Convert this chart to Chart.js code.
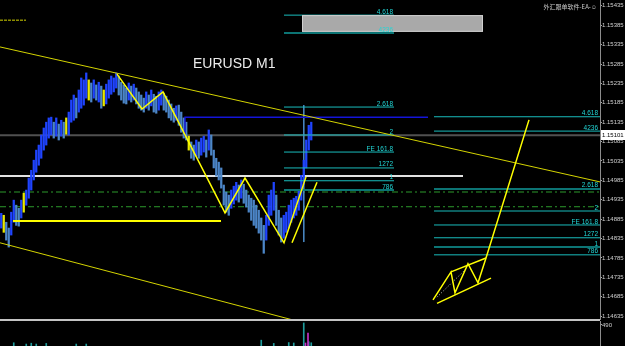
<!DOCTYPE html>
<html lang="en">
<head>
<meta charset="utf-8">
<title>EURUSD M1</title>
<script src="https://cdn.jsdelivr.net/npm/chart.js@4.4.0/dist/chart.umd.min.js"></script>
<style>
  html, body { margin:0; padding:0; background:#000; }
  #wrap { position:relative; width:625px; height:346px; overflow:hidden; background:#000; }
  #main { position:absolute; left:0; top:0; }
  #sub { position:absolute; left:0; top:321px; }
  #sep { position:absolute; left:0; top:319px; width:600px; height:2px; background:#c4c4c4; }
  #sym { position:absolute; left:193px; top:55px; line-height:14px; color:#ececec;
         font:14px "Liberation Sans", Arial, sans-serif; }
  #brand { position:absolute; right:28px; top:2px; line-height:8px; color:#c8c8c8;
           font:6px "Noto Sans CJK SC", sans-serif; }
</style>
</head>
<body>
<div id="wrap">
  <canvas id="main" width="625" height="320"></canvas>
  <div id="sep"></div>
  <canvas id="sub" width="625" height="25"></canvas>
  <div id="sym">EURUSD M1</div>
  <div id="brand">外汇跟单软件-EA-☺</div>
</div>
<script>
// price axis
var yTicks = [1.15435,1.15385,1.15335,1.15285,1.15235,1.15185,1.15135,1.15085,1.15035,
              1.14985,1.14935,1.14885,1.14835,1.14785,1.14735,1.14685,1.14635];
var lastPrice = 1.15101;

// M1 bars (high / low)
var barHigh = [1.14900,1.14895,1.14877,1.14862,1.14903,1.14934,1.14921,1.14913,1.14934,1.14952,
1.14960,1.14991,1.15011,1.15037,1.15063,1.15076,1.15102,1.15120,1.15135,1.15146,
1.15148,1.15135,1.15146,1.15130,1.15140,1.15135,1.15146,1.15161,1.15192,1.15205,
1.15197,1.15218,1.15249,1.15244,1.15262,1.15244,1.15236,1.15244,1.15231,1.15238,
1.15228,1.15218,1.15233,1.15244,1.15254,1.15249,1.15262,1.15254,1.15238,1.15231,
1.15223,1.15236,1.15228,1.15233,1.15223,1.15213,1.15205,1.15197,1.15213,1.15205,
1.15218,1.15207,1.15202,1.15213,1.15218,1.15210,1.15202,1.15192,1.15182,1.15171,
1.15177,1.15179,1.15161,1.15146,1.15135,1.15099,1.15084,1.15076,1.15089,1.15084,
1.15094,1.15099,1.15089,1.15115,1.15102,1.15063,1.15042,1.15032,1.15017,1.14973,
1.14955,1.14947,1.14960,1.14970,1.14980,1.14973,1.14986,1.14975,1.14960,1.14947,
1.14939,1.14934,1.14921,1.14908,1.14888,1.14869,1.14895,1.14947,1.14960,1.14980,
1.14947,1.14908,1.14888,1.14895,1.14903,1.14921,1.14934,1.14939,1.14944,1.14960,
1.14998,1.15037,1.15089,1.15127,1.15135];
var barLow = [1.14862,1.14851,1.14831,1.14813,1.14844,1.14877,1.14869,1.14867,1.14888,1.14903,
1.14921,1.14939,1.14960,1.14986,1.15006,1.15024,1.15042,1.15063,1.15076,1.15094,
1.15102,1.15094,1.15099,1.15089,1.15099,1.15094,1.15104,1.15102,1.15135,1.15140,
1.15146,1.15161,1.15171,1.15179,1.15197,1.15192,1.15187,1.15197,1.15192,1.15187,
1.15171,1.15177,1.15182,1.15197,1.15207,1.15213,1.15223,1.15205,1.15192,1.15184,
1.15182,1.15192,1.15187,1.15192,1.15182,1.15171,1.15166,1.15161,1.15171,1.15166,
1.15177,1.15161,1.15158,1.15166,1.15179,1.15166,1.15161,1.15146,1.15140,1.15135,
1.15140,1.15127,1.15109,1.15094,1.15089,1.15063,1.15042,1.15037,1.15048,1.15042,
1.15050,1.15058,1.15045,1.15063,1.15050,1.15017,1.14996,1.14986,1.14965,1.14921,
1.14903,1.14895,1.14913,1.14924,1.14934,1.14929,1.14939,1.14926,1.14916,1.14903,
1.14882,1.14869,1.14862,1.14849,1.14831,1.14797,1.14831,1.14869,1.14895,1.14908,
1.14869,1.14844,1.14826,1.14836,1.14851,1.14862,1.14877,1.14888,1.14895,1.14908,
1.14934,1.14973,1.15017,1.15063,1.15089];
var yellowBars = [1, 9, 26, 35, 41, 75];

// drawn objects: [bar position, price]
var trendUpper = [[0,1.15329],[240,1.14981]];
var trendLower = [[0,1.14824],[117.2,1.14625]];
var dashTop = [[0,1.15398],[10.4,1.15398]];
var supportLine = [[5.2,1.14880],[88.4,1.14880]];
var whiteLevel = [[0,1.14996],[185.2,1.14996]];
var priceLine = [[0,lastPrice],[240,lastPrice]];
var greenLevels = [1.14955, 1.14917];
var blueLevel = [[74,1.15099],[74,1.15148],[171.2,1.15148]];
var markerLine = [[121.5,1.15179],[121.5,1.14826]];
var zigzag = [[46.8,1.15259],[56.8,1.15169],[65.2,1.15213],[90,1.14901],[98,1.14991],[113.6,1.14824],[122.4,1.14994]];
var channelLine = [[116.8,1.14824],[126.8,1.14980]];
var wedgeZig = [[173.2,1.14677],[180.4,1.14749],[182,1.14695],[187.2,1.14770],[191.2,1.14721],[194.4,1.14785],[211.6,1.15141]];
var wedgeTop = [[180.4,1.14749],[194.4,1.14785]];
var wedgeBottom = [[174.8,1.14668],[196.4,1.14733]];
var wedgeDots = [[174.8,1.14684],[186,1.14754]];
var boxSpan = [120.8, 193.2];
var boxPrices = [1.15411, 1.15368];

// fibonacci expansions
var fibLabels = ['4.618','4236','2.618','2','FE 161.8','1272','1','786'];
var fibA = [1.15411,1.15365,1.15174,1.15102,1.15058,1.15017,1.14984,1.14960];
var fibB = [1.15149,1.15112,1.14963,1.14906,1.14870,1.14837,1.14813,1.14793];
var fibASpan = [113.6, 157.6];
var fibBSpan = [173.6, 240];

// sub window
var volIdx = [5,10,12,14,18,30,34,104,109,115,117,121,123,124];
var volVal = [75,45,65,45,60,45,45,135,60,80,70,535,100,75];
var magIdx = [121,122];
var magVal = [70,300];

var fibADark = [1,7], fibBDark = [2,6];

function pts(arr) { return arr.map(function (p) { return {x:p[0], y:p[1]}; }); }
function seg(arr, color, width, order, dash) {
  return { type:'line', data:pts(arr), borderColor:color, borderWidth:width, pointRadius:0,
           fill:false, tension:0, order:order, borderDash:dash || [] };
}

var barColors = barHigh.map(function (h, i) {
  if (yellowBars.indexOf(i) >= 0) return '#e8e800';
  var mid = (h + barLow[i]) / 2, prev = i ? (barHigh[i-1] + barLow[i-1]) / 2 : mid;
  return mid >= prev ? '#1f44ff' : '#4c86c8';
});

var datasets = [];
datasets.push(seg(priceLine, '#505050', 2, 60));
datasets.push(seg(whiteLevel, '#e2e2e2', 2, 58));
greenLevels.forEach(function (v) {
  datasets.push(seg([[0,v],[240,v]], '#2c9a2c', 1, 59, [6,3,2,3]));
});
datasets.push(seg(markerLine, '#4a86c0', 1, 57));
datasets.push({ type:'bar', data: barHigh.map(function (h, i) { return {x:i+0.5, y:[barLow[i], h]}; }),
  backgroundColor: barColors, barThickness:1.6, borderWidth:0, grouped:false, order:50 });
fibLabels.forEach(function (t, i) {
  var da = fibADark.indexOf(i) >= 0, db = fibBDark.indexOf(i) >= 0;
  datasets.push(seg([[fibASpan[0],fibA[i]],[fibASpan[1],fibA[i]]], da ? '#0c7474' : '#19bcbc', da ? 2 : 1, 30));
  datasets.push(seg([[fibBSpan[0],fibB[i]],[fibBSpan[1],fibB[i]]], db ? '#0c7474' : '#19bcbc', db ? 2 : 1, 30));
});
datasets.push(seg(blueLevel, '#1414d8', 1.5, 20));
datasets.push(seg(trendUpper, '#d4d400', 1, 10));
datasets.push(seg(trendLower, '#d4d400', 1, 10));
datasets.push(seg(dashTop, '#d4d400', 1, 10, [3,1]));
datasets.push(seg(supportLine, '#ffff00', 2, 10));
datasets.push(seg(zigzag, '#ffff00', 1.5, 5));
datasets.push(seg(channelLine, '#ffff00', 1.5, 5));
datasets.push(seg(wedgeZig, '#ffff00', 1.5, 5));
datasets.push(seg(wedgeTop, '#ffff00', 1.5, 5));
datasets.push(seg(wedgeBottom, '#ffff00', 1.5, 5));
datasets.push(seg(wedgeDots, '#cfcfcf', 1, 5, [1,2]));

var axisFont = { family:'"Liberation Sans", Arial, sans-serif', size:6 };

var overlay = {
  id: 'overlay',
  afterDatasetsDraw: function (chart) {
    var ctx = chart.ctx, x = chart.scales.x, y = chart.scales.y;
    ctx.save();
    var bx1 = x.getPixelForValue(boxSpan[0]), bx2 = x.getPixelForValue(boxSpan[1]);
    var by1 = y.getPixelForValue(boxPrices[0]), by2 = y.getPixelForValue(boxPrices[1]);
    ctx.fillStyle = '#a9a9a9';
    ctx.fillRect(bx1, by1, bx2 - bx1, by2 - by1);
    ctx.strokeStyle = '#d0d0d0';
    ctx.lineWidth = 1;
    ctx.strokeRect(bx1 + 0.5, by1 + 0.5, bx2 - bx1 - 1, by2 - by1 - 1);
    ctx.font = '6.5px ' + axisFont.family;
    ctx.fillStyle = '#22d6d6';
    ctx.textAlign = 'right';
    ctx.textBaseline = 'bottom';
    fibLabels.forEach(function (t, i) {
      ctx.fillText(t, x.getPixelForValue(fibASpan[1]) - 1, y.getPixelForValue(fibA[i]));
      ctx.fillText(t, x.getPixelForValue(fibBSpan[1]) - 2, y.getPixelForValue(fibB[i]));
    });
    ctx.restore();
  },
  afterDraw: function (chart) {
    var ctx = chart.ctx, y = chart.scales.y, r = chart.chartArea.right;
    var yy = Math.round(y.getPixelForValue(lastPrice));
    ctx.save();
    ctx.fillStyle = '#ffffff';
    ctx.fillRect(r + 1, yy - 5, 24, 10);
    ctx.fillStyle = '#000000';
    ctx.font = '6px ' + axisFont.family;
    ctx.textAlign = 'left';
    ctx.textBaseline = 'middle';
    ctx.fillText(lastPrice.toFixed(5), r + 2, yy);
    ctx.restore();
  }
};

function rightAxis(min, max, ticks, fmt) {
  return {
    position:'right', min:min, max:max,
    afterBuildTicks: function (s) { s.ticks = ticks.map(function (v) { return {value:v}; }); },
    afterFit: function (s) { s.width = 25; s.paddingTop = 0; s.paddingBottom = 0; },
    grid: { drawOnChartArea:false, drawTicks:true, tickLength:2, color:'#a8a8a8' },
    border: { display:true, color:'#8c8c8c', width:1 },
    ticks: { color:'#d0d0d0', font:axisFont, padding:0, callback: fmt }
  };
}

new Chart(document.getElementById('main'), {
  type: 'bar',
  data: { datasets: datasets },
  options: {
    responsive:false, animation:false, devicePixelRatio:1,
    layout: { padding:0 },
    plugins: { legend:{display:false}, tooltip:{enabled:false} },
    scales: {
      x: { type:'linear', min:0, max:240, display:false, offset:false },
      y: rightAxis(1.14625, 1.15450, yTicks, function (v) { return v.toFixed(5); })
    }
  },
  plugins: [overlay]
});

new Chart(document.getElementById('sub'), {
  type: 'bar',
  data: { datasets: [
    { data: volIdx.map(function (v, i) { return {x:v+0.5, y:volVal[i]}; }),
      backgroundColor:'#1f9c9c', barThickness:1, grouped:false, order:2 },
    { data: magIdx.map(function (v, i) { return {x:v+1.2, y:magVal[i]}; }),
      backgroundColor:'#c232c8', barThickness:1, grouped:false, order:1 }
  ] },
  options: {
    responsive:false, animation:false, devicePixelRatio:1,
    layout: { padding:0 },
    plugins: { legend:{display:false}, tooltip:{enabled:false} },
    scales: {
      x: { type:'linear', min:0, max:240, display:false, offset:false },
      y: rightAxis(0, 580, [490], function (v) { return String(v); })
    }
  }
});
</script>
</body>
</html>
